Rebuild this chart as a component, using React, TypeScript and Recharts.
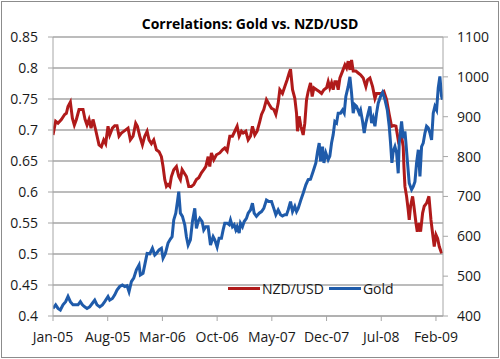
import React from "react";
import { LineChart, Line, XAxis, YAxis, CartesianGrid, Legend } from "recharts";

// Month offsets from Jan-2005 and values
const nzdMonths = [0.00,0.34,0.64,1.07,1.49,1.71,1.92,2.22,2.48,2.73,2.99,3.33,3.63,3.84,4.10,4.35,4.61,4.87,5.12,5.46,5.89,6.19,6.49,6.74,7.04,7.26,7.60,7.90,8.19,8.45,8.75,9.18,9.60,9.90,10.24,10.58,10.80,11.10,11.44,11.74,12.04,12.29,12.59,12.89,13.23,13.57,13.87,14.08,14.30,14.51,14.72,14.94,15.15,15.45,15.79,16.09,16.30,16.52,16.77,17.07,17.37,17.71,18.01,18.35,18.65,18.99,19.29,19.55,19.85,20.06,20.27,20.57,20.91,21.34,21.68,21.98,22.28,22.62,22.96,23.26,23.56,23.82,24.11,24.33,24.67,24.97,25.27,25.52,25.82,26.12,26.46,26.68,26.97,27.31,27.66,27.96,28.25,28.51,28.81,29.02,29.36,29.66,29.96,30.22,30.39,30.65,30.94,31.16,31.28,31.50,31.71,32.01,32.22,32.44,32.65,32.95,33.16,33.38,33.72,34.06,34.36,34.66,35.00,35.21,35.42,35.64,35.85,36.06,36.28,36.49,36.71,37.05,37.35,37.56,37.77,37.99,38.20,38.41,38.75,39.05,39.35,39.69,40.03,40.25,40.55,40.89,41.19,41.40,41.74,42.04,42.34,42.68,43.02,43.32,43.62,43.88,44.17,44.39,44.60,44.81,44.90,45.03,45.24,45.45,45.58,45.75,46.01,46.18,46.44,46.61,46.86,47.03,47.29,47.50,47.80,48.10,48.36,48.57,48.78,49.00,49.21,49.42,49.72];
const nzdValues = [0.692,0.714,0.711,0.717,0.725,0.727,0.738,0.745,0.719,0.708,0.717,0.733,0.733,0.733,0.717,0.708,0.717,0.703,0.717,0.700,0.676,0.673,0.684,0.678,0.706,0.692,0.703,0.707,0.707,0.690,0.695,0.699,0.703,0.684,0.690,0.711,0.706,0.690,0.676,0.690,0.698,0.684,0.678,0.684,0.668,0.665,0.657,0.641,0.620,0.609,0.612,0.609,0.625,0.636,0.641,0.625,0.620,0.636,0.631,0.625,0.609,0.609,0.612,0.620,0.623,0.631,0.636,0.641,0.657,0.641,0.663,0.652,0.660,0.663,0.668,0.671,0.666,0.690,0.690,0.698,0.706,0.690,0.698,0.695,0.698,0.684,0.690,0.706,0.692,0.698,0.714,0.725,0.733,0.749,0.741,0.735,0.733,0.725,0.743,0.765,0.759,0.770,0.781,0.792,0.798,0.765,0.751,0.727,0.698,0.722,0.706,0.692,0.711,0.749,0.762,0.776,0.754,0.768,0.765,0.762,0.759,0.765,0.768,0.778,0.768,0.776,0.765,0.778,0.778,0.765,0.784,0.795,0.805,0.800,0.811,0.797,0.813,0.795,0.795,0.792,0.789,0.784,0.770,0.781,0.784,0.770,0.751,0.759,0.759,0.759,0.762,0.749,0.725,0.706,0.707,0.706,0.684,0.690,0.690,0.673,0.641,0.609,0.593,0.571,0.555,0.577,0.593,0.577,0.550,0.536,0.550,0.536,0.566,0.577,0.582,0.593,0.555,0.533,0.512,0.531,0.525,0.512,0.501];

const goldMonths = [0.00,0.34,0.64,0.94,1.28,1.62,1.92,2.22,2.56,2.90,3.20,3.50,3.76,4.05,4.35,4.69,5.04,5.34,5.63,5.98,6.32,6.62,7.04,7.26,7.60,7.90,8.19,8.54,8.88,9.18,9.48,9.73,10.03,10.33,10.67,11.01,11.18,11.52,11.78,12.04,12.38,12.72,13.02,13.23,13.57,13.87,14.08,14.38,14.72,15.02,15.24,15.45,15.71,15.92,16.09,16.30,16.56,16.86,17.07,17.29,17.58,17.84,18.14,18.35,18.57,18.78,19.08,19.29,19.55,19.85,20.15,20.49,20.70,21.00,21.25,21.55,21.77,21.98,22.28,22.54,22.71,22.96,23.18,23.39,23.56,23.82,23.99,24.24,24.46,24.75,24.97,25.27,25.52,25.74,26.03,26.38,26.68,26.97,27.31,27.61,27.96,28.25,28.51,28.81,29.11,29.36,29.66,29.88,30.09,30.39,30.65,30.94,31.16,31.37,31.71,32.01,32.35,32.65,32.95,33.29,33.63,33.85,34.06,34.23,34.49,34.66,34.91,35.21,35.42,35.64,35.85,36.06,36.28,36.49,36.79,37.05,37.26,37.47,37.77,37.99,38.20,38.41,38.62,38.84,39.18,39.35,39.61,39.82,40.03,40.33,40.55,40.76,40.97,41.19,41.40,41.61,41.91,42.17,42.47,42.77,43.02,43.19,43.36,43.53,43.75,43.96,44.17,44.30,44.60,44.81,45.03,45.16,45.33,45.58,45.88,46.10,46.31,46.52,46.74,46.95,47.16,47.37,47.59,47.80,48.01,48.23,48.44,48.65,48.86,49.08,49.29,49.50,49.72,49.85];
const goldValues = [419,428,419,415,428,436,449,436,428,428,428,436,428,423,419,423,432,440,428,423,428,436,449,440,444,453,465,474,478,474,476,461,486,495,516,528,503,507,532,557,556,570,553,557,566,570,545,557,583,593,599,641,658,687,712,658,650,629,599,578,591,637,670,620,637,645,637,616,624,624,578,599,591,573,595,595,616,633,633,629,641,624,629,616,624,608,633,624,637,645,658,666,683,658,650,658,662,670,691,687,687,670,654,666,654,651,654,654,666,687,662,675,662,670,691,708,729,742,743,763,784,813,834,788,825,784,809,792,801,834,855,888,884,909,909,917,909,951,976,1000,959,909,930,926,909,917,888,859,884,909,926,884,897,876,909,934,951,961,943,917,876,834,784,813,825,809,758,834,888,846,863,834,792,733,717,725,737,784,817,750,825,834,859,876,872,859,842,909,926,917,972,1001,951,943];

const xTickMonths = [0, 7, 14, 21, 28, 35, 42, 49];
const xTickLabels = ["Jan-05", "Aug-05", "Mar-06", "Oct-06", "May-07", "Dec-07", "Jul-08", "Feb-09"];
const leftTicks = [0.4, 0.45, 0.5, 0.55, 0.6, 0.65, 0.7, 0.75, 0.8, 0.85];
const rightTicks = [400, 500, 600, 700, 800, 900, 1000, 1100];
const seriesNames = ["NZD/USD", "Gold"];
const title = "Correlations: Gold vs. NZD/USD";

const nzdData = nzdMonths.map((m, i) => ({ m, nzd: nzdValues[i] }));
const goldData = goldMonths.map((m, i) => ({ m, gold: goldValues[i] }));

const RED = "#B01A1A";
const BLUE = "#1F5BAA";
const FONT = "'Open Sans', 'Noto Sans', sans-serif";
const GRID = "#A6A6A6";

const renderLegend = () => (
  <div style={{ display: "flex", alignItems: "center", fontFamily: FONT, fontSize: 14, color: "#1a1a1a", whiteSpace: "nowrap" }}>
    <span style={{ display: "inline-block", width: 32, height: 3, background: RED }} />
    <span style={{ marginLeft: 2 }}>{seriesNames[0]}</span>
    <span style={{ display: "inline-block", width: 32, height: 3, background: BLUE, marginLeft: 5 }} />
    <span style={{ marginLeft: 2 }}>{seriesNames[1]}</span>
  </div>
);

export default function App() {
  const tickStyle = { fontFamily: FONT, fontSize: 14, fill: "#1a1a1a" };
  return (
    <div style={{ position: "absolute", left: 0, top: 0, width: 500, height: 359, background: "#fff" }}>
      <div style={{ position: "absolute", left: 1, top: 1, width: 496, height: 355, border: "1px solid #8c8c8c" }} />
      <div style={{ position: "absolute", left: 0, top: 14, width: 500, textAlign: "center", fontFamily: FONT, fontWeight: 700, fontSize: 14, color: "#000" }}>
        {title}
      </div>
      <LineChart width={500} height={359} margin={{ top: 37, right: 0, bottom: 0, left: 0 }} style={{ position: "absolute", left: 0, top: 0 }}>
        <CartesianGrid yAxisId="left" vertical={false} stroke={GRID} strokeWidth={1.5} />
        <XAxis
          xAxisId={0}
          type="number"
          dataKey="m"
          domain={[0, 49.9]}
          ticks={xTickMonths}
          tickFormatter={(v: number) => xTickLabels[xTickMonths.indexOf(v)] ?? ""}
          height={43}
          tickSize={5}
          tickMargin={11}
          stroke={GRID}
          tick={tickStyle}
          allowDataOverflow
          interval={0}
        />
        <YAxis
          yAxisId="left"
          orientation="left"
          domain={[0.4, 0.85]}
          ticks={leftTicks}
          width={53}
          tickSize={5}
          tickMargin={10}
          stroke={GRID}
          tick={tickStyle}
          interval={0}
          allowDataOverflow
        />
        <YAxis
          yAxisId="right"
          orientation="right"
          domain={[400, 1100]}
          ticks={rightTicks}
          width={57}
          tickSize={5}
          tickMargin={9}
          stroke={GRID}
          tick={{ ...tickStyle, textAnchor: "start" }}
          interval={0}
          allowDataOverflow
        />
        <Line data={nzdData} yAxisId="left" dataKey="nzd" name={seriesNames[0]} stroke={RED} strokeWidth={3} dot={false} isAnimationActive={false} />
        <Line data={goldData} yAxisId="right" dataKey="gold" name={seriesNames[1]} stroke={BLUE} strokeWidth={3} dot={false} isAnimationActive={false} />
        <Legend
          layout="horizontal"
          verticalAlign="middle"
          align="center"
          content={renderLegend}
          wrapperStyle={{ left: 228, top: 279, width: 170, height: 20 }}
        />
      </LineChart>
    </div>
  );
}
